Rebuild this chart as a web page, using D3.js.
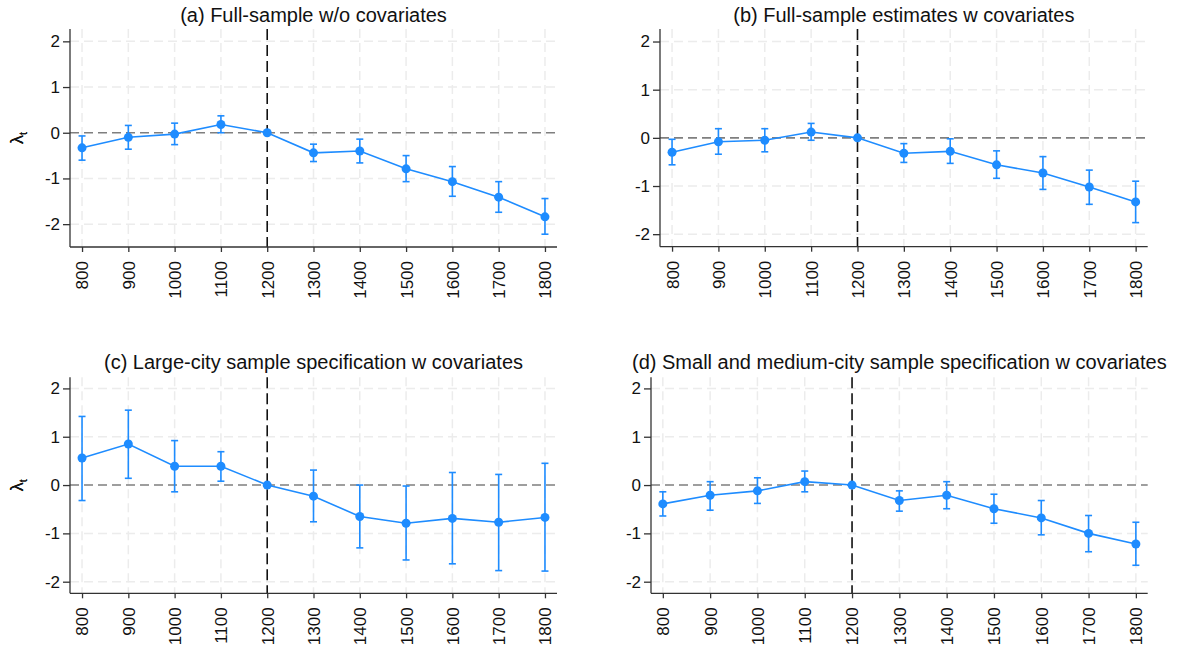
<!DOCTYPE html>
<html>
<head>
<meta charset="utf-8">
<script src="https://cdn.jsdelivr.net/npm/d3@7"></script>
<style>
  body { margin: 0; background: #fff; }
  svg { display: block; font-family: "Liberation Sans", Arial, sans-serif; }
  .axis path, .axis line { stroke: #333; stroke-width: 1.3; }
</style>
</head>
<body>
<svg id="chart" width="1188" height="647"></svg>
<script>
// Event-study coefficients (lambda_t) and 95% CI bounds.
const years = [800, 900, 1000, 1100, 1200, 1300, 1400, 1500, 1600, 1700, 1800];
const yTicks = [-2, -1, 0, 1, 2];
const titles = [
  '(a) Full-sample w/o covariates',
  '(b) Full-sample estimates w covariates',
  '(c) Large-city sample specification w covariates',
  '(d) Small and medium-city sample specification w covariates'
];

const estA = [-0.33, -0.10, -0.03, 0.18, 0, -0.44, -0.40, -0.79, -1.07, -1.41, -1.84];
const hiA  = [-0.07, 0.16, 0.21, 0.37, 0, -0.25, -0.14, -0.50, -0.74, -1.07, -1.44];
const loA  = [-0.60, -0.36, -0.26, 0.00, 0, -0.63, -0.66, -1.07, -1.39, -1.74, -2.22];

const estB = [-0.30, -0.08, -0.05, 0.12, 0, -0.32, -0.28, -0.56, -0.73, -1.02, -1.33];
const hiB  = [-0.03, 0.19, 0.19, 0.30, 0, -0.12, -0.02, -0.27, -0.39, -0.67, -0.90];
const loB  = [-0.56, -0.34, -0.29, -0.05, 0, -0.51, -0.53, -0.84, -1.07, -1.38, -1.76];

const estC = [0.56, 0.85, 0.39, 0.39, 0, -0.23, -0.65, -0.79, -0.69, -0.77, -0.67];
const hiC  = [1.42, 1.55, 0.92, 0.69, 0, 0.31, 0.00, -0.02, 0.26, 0.22, 0.45];
const loC  = [-0.32, 0.14, -0.14, 0.08, 0, -0.76, -1.30, -1.55, -1.63, -1.77, -1.78];

const estD = [-0.39, -0.21, -0.12, 0.07, 0, -0.32, -0.21, -0.49, -0.68, -1.00, -1.22];
const hiD  = [-0.14, 0.07, 0.15, 0.29, 0, -0.12, 0.07, -0.19, -0.32, -0.63, -0.77];
const loD  = [-0.64, -0.52, -0.38, -0.14, 0, -0.54, -0.49, -0.79, -1.03, -1.38, -1.66];

const blue = '#1e8cff';

// Plot-region placement for each panel.
const panels = [
  {est: estA, hi: hiA, lo: loA, left: 70, right: 557, top: 29, bottom: 247,
    xDom: [774, 1826], yDom: [-2.5, 2.27], titleY: 22},
  {est: estB, hi: hiB, lo: loB, left: 660, right: 1147.7, top: 29, bottom: 246.7,
    xDom: [774, 1826], yDom: [-2.26, 2.26], titleY: 22},
  {est: estC, hi: hiC, lo: loC, left: 70, right: 557, top: 377.3, bottom: 593.3,
    xDom: [774, 1826], yDom: [-2.24, 2.23], titleY: 369},
  {est: estD, hi: hiD, lo: loD, left: 651, right: 1147.7, top: 377.3, bottom: 593.3,
    xDom: [775, 1825], yDom: [-2.24, 2.23], titleY: 369}
];

const svg = d3.select('#chart');

panels.forEach((p, i) => {
  const x = d3.scaleLinear().domain(p.xDom).range([p.left, p.right]);
  const y = d3.scaleLinear().domain(p.yDom).range([p.bottom, p.top]);
  const g = svg.append('g');
  const data = years.map((yr, j) => ({year: yr, est: p.est[j], hi: p.hi[j], lo: p.lo[j]}));

  // Gridlines
  g.append('g').selectAll('line')
    .data(yTicks.filter(t => t !== 0))
    .join('line')
    .attr('x1', p.left).attr('x2', p.right)
    .attr('y1', d => y(d)).attr('y2', d => y(d))
    .attr('stroke', '#ececec').attr('stroke-width', 1.5)
    .attr('stroke-dasharray', '9,5');
  g.append('g').selectAll('line')
    .data(years.filter(d => d !== 1200))
    .join('line')
    .attr('x1', d => x(d)).attr('x2', d => x(d))
    .attr('y1', p.top).attr('y2', p.bottom)
    .attr('stroke', '#ececec').attr('stroke-width', 1.5)
    .attr('stroke-dasharray', '9,5');

  // Reference lines
  g.append('line')
    .attr('x1', p.left).attr('x2', p.right)
    .attr('y1', y(0)).attr('y2', y(0))
    .attr('stroke', '#7f7f7f').attr('stroke-width', 1.6)
    .attr('stroke-dasharray', '9,5');
  g.append('line')
    .attr('x1', x(1200)).attr('x2', x(1200))
    .attr('y1', p.top).attr('y2', p.bottom)
    .attr('stroke', '#111').attr('stroke-width', 1.6)
    .attr('stroke-dasharray', '11,5');

  // Axes
  const yAxis = g.append('g')
    .attr('class', 'axis')
    .attr('transform', `translate(${p.left},0)`)
    .call(d3.axisLeft(y).tickValues(yTicks).tickSize(7).tickSizeOuter(0).tickPadding(3)
      .tickFormat(d => d < 0 ? '-' + Math.abs(d) : String(d)));
  yAxis.select('.domain').attr('d', `M0,${p.top}V${p.bottom}`);

  const xAxis = g.append('g')
    .attr('class', 'axis')
    .attr('transform', `translate(0,${p.bottom})`)
    .call(d3.axisBottom(x).tickValues(years).tickSize(5).tickSizeOuter(0).tickFormat(d3.format('d')));
  xAxis.select('.domain').attr('d', `M${p.left},0H${p.right}`);

  [xAxis, yAxis].forEach(a => {
    a.attr('font-size', null).attr('font-family', null);
    a.selectAll('.tick line').attr('stroke', '#555');
    a.selectAll('.tick text').attr('font-size', 17).attr('fill', '#111');
  });
  xAxis.selectAll('.tick text')
    .attr('text-anchor', 'end')
    .attr('transform', 'rotate(-90)')
    .attr('x', -14)
    .attr('y', 0)
    .attr('dy', '0.35em');

  // Y axis title
  const yt = g.append('text')
    .attr('transform', `translate(23,${(p.top + p.bottom) / 2}) rotate(-90)`)
    .attr('text-anchor', 'middle')
    .attr('font-size', 18)
    .attr('fill', '#111');
  yt.append('tspan').text('λ');
  yt.append('tspan').attr('font-size', 11).attr('dy', 4).text('t');

  // Title
  g.append('text')
    .attr('x', (p.left + p.right) / 2)
    .attr('y', p.titleY)
    .attr('text-anchor', 'middle')
    .attr('font-size', 20)
    .attr('fill', '#111')
    .text(titles[i]);

  // Error bars
  const eb = g.append('g').selectAll('g').data(data).join('g');
  eb.append('line')
    .attr('x1', d => x(d.year)).attr('x2', d => x(d.year))
    .attr('y1', d => y(d.hi)).attr('y2', d => y(d.lo))
    .attr('stroke', blue).attr('stroke-width', 1.6);
  eb.selectAll('line.cap')
    .data(d => [{year: d.year, v: d.hi}, {year: d.year, v: d.lo}])
    .join('line')
    .attr('class', 'cap')
    .attr('x1', d => x(d.year) - 3.5).attr('x2', d => x(d.year) + 3.5)
    .attr('y1', d => y(d.v)).attr('y2', d => y(d.v))
    .attr('stroke', blue).attr('stroke-width', 1.6);

  // Connecting line
  g.append('path')
    .datum(data)
    .attr('fill', 'none')
    .attr('stroke', blue)
    .attr('stroke-width', 1.6)
    .attr('d', d3.line().x(d => x(d.year)).y(d => y(d.est)));

  // Markers
  g.append('g').selectAll('circle')
    .data(data)
    .join('circle')
    .attr('cx', d => x(d.year))
    .attr('cy', d => y(d.est))
    .attr('r', 4.5)
    .attr('fill', blue);
});
</script>
</body>
</html>
